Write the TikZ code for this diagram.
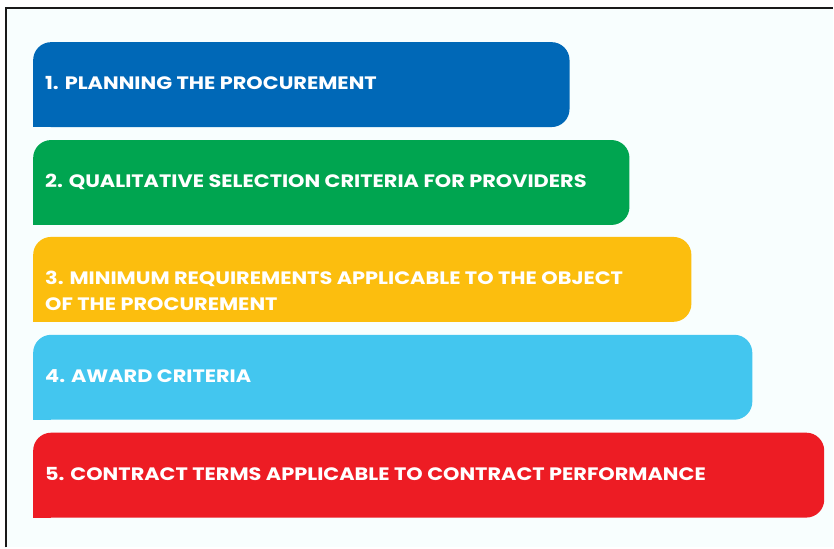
\documentclass[tikz,border=0pt]{standalone}
\usepackage{fontspec}
\setmainfont{Poppins}
\newfontfamily\barfont{Poppins}[FakeStretch=1.16]
\usepackage{xcolor}
\usetikzlibrary{positioning}

\definecolor{planblue}{RGB}{0,104,183}
\definecolor{selgreen}{RGB}{0,165,80}
\definecolor{reqyellow}{RGB}{252,190,14}
\definecolor{awardcyan}{RGB}{67,198,239}
\definecolor{termred}{RGB}{237,28,36}
\definecolor{paper}{RGB}{248,254,254}

\begin{document}
\begin{tikzpicture}[x=1pt, y=-1pt,
  bar/.style={rectangle, rounded corners=18pt, minimum height=85pt, inner sep=0pt, anchor=north west},
  bartext/.style={anchor=base west, align=left, inner sep=0pt, text=white, font=\barfont\bfseries\fontsize{18}{26}\selectfont}
]
  % Page and frame
  \fill[white] (0,0) rectangle (834,548);
  \fill[paper] (6.5,8.5) rectangle (834,548);
  \draw[line width=2pt, black!90] (6.5,548) -- (6.5,8.5) -- (834,8.5);

  % Bars
  \node[bar, fill=planblue, minimum width=537pt] (plan) at (33,42) {};
  \node[bar, fill=selgreen, minimum width=597pt] (select) at (33,140) {};
  \node[bar, fill=reqyellow, minimum width=659pt] (require) at (33,237) {};
  \node[bar, fill=awardcyan, minimum width=720pt] (award) at (33,335) {};
  \node[bar, fill=termred, minimum width=792pt] (terms) at (33,433) {};

  % Square lower left corners
  \fill[planblue] (plan.south west) rectangle ++(18,-18);
  \fill[selgreen] (select.south west) rectangle ++(18,-18);
  \fill[reqyellow] (require.south west) rectangle ++(18,-18);
  \fill[awardcyan] (award.south west) rectangle ++(18,-18);
  \fill[termred] (terms.south west) rectangle ++(18,-18);

  % Labels (base anchor sits on the last line)
  \node[bartext] (plantext) at (45,90) {1. PLANNING THE PROCUREMENT};
  \node[bartext] (selecttext) at (45,188) {2. QUALITATIVE SELECTION CRITERIA FOR PROVIDERS};
  \node[bartext] (requiretext) at (45,311) {3. MINIMUM REQUIREMENTS APPLICABLE TO THE OBJECT\\OF THE PROCUREMENT};
  \node[bartext] (awardtext) at (45,383) {4. AWARD CRITERIA};
  \node[bartext] (termstext) at (45,481) {5. CONTRACT TERMS APPLICABLE TO CONTRACT PERFORMANCE};
\end{tikzpicture}
\end{document}
